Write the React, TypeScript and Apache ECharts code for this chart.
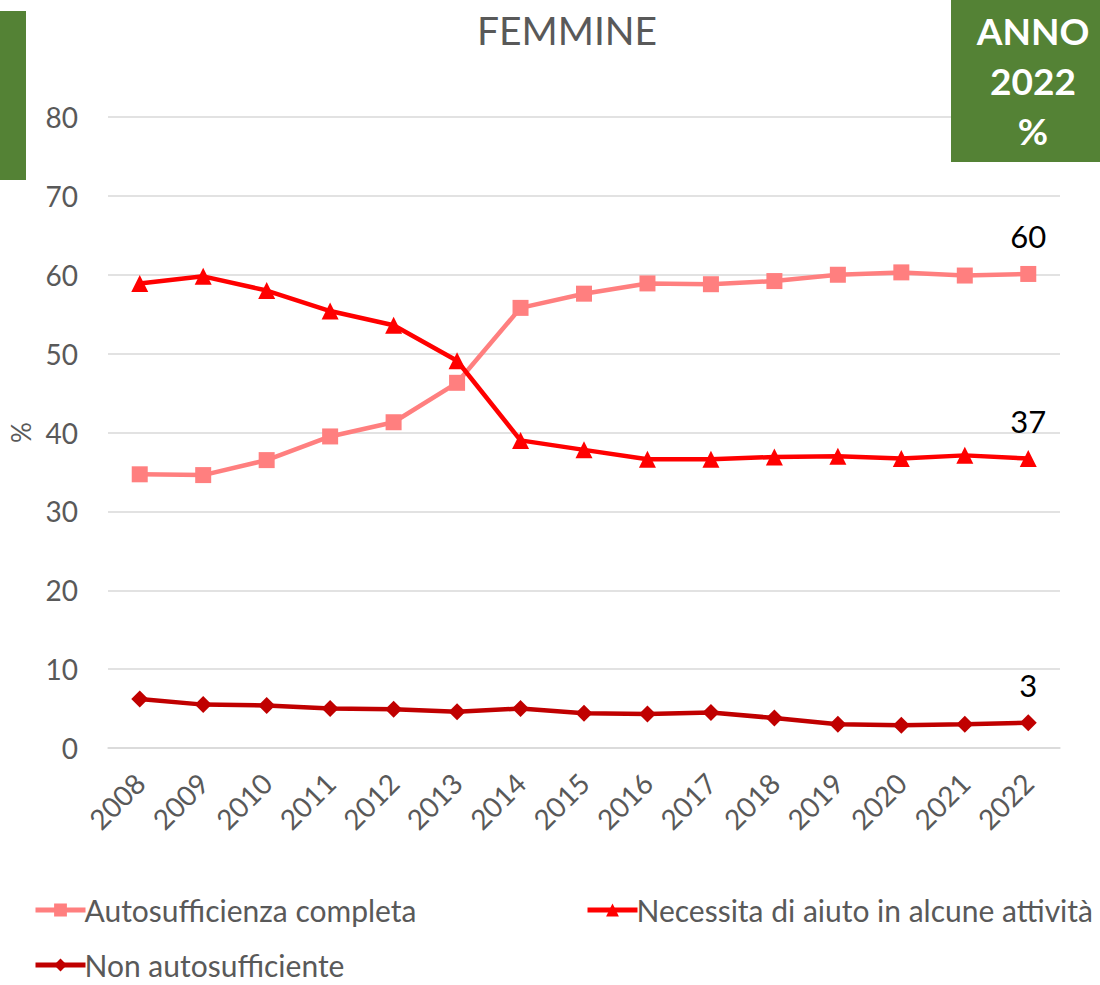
import React, { useEffect, useRef } from "react";
import * as echarts from "echarts";

const years = ["2008","2009","2010","2011","2012","2013","2014","2015","2016","2017","2018","2019","2020","2021","2022"];
const autosufficienza = [34.7, 34.6, 36.5, 39.5, 41.3, 46.3, 55.8, 57.6, 58.9, 58.8, 59.2, 60.0, 60.3, 59.9, 60.1];
const necessita = [58.9, 59.8, 58.0, 55.4, 53.6, 49.1, 39.0, 37.8, 36.6, 36.6, 36.9, 37.0, 36.7, 37.1, 36.7];
const nonAuto = [6.2, 5.5, 5.4, 5.0, 4.9, 4.6, 5.0, 4.4, 4.3, 4.5, 3.8, 3.0, 2.9, 3.0, 3.2];
const yTicks = [0, 10, 20, 30, 40, 50, 60, 70, 80];

const FONT = "Lato, 'Open Sans', sans-serif";
const GREY = "#595959";

function withEndLabel(values: number[]) {
  return values.map((v, i) =>
    i === values.length - 1
      ? {
          value: v,
          label: {
            show: true,
            position: "top",
            distance: 14,
            formatter: () => String(Math.round(v)),
            color: "#000",
            fontSize: 31,
            fontFamily: FONT,
          },
        }
      : v
  );
}

const legendCommon = {
  itemWidth: 50,
  itemHeight: 16,
  lineStyle: { width: 5 },
  textStyle: { color: GREY, fontSize: 30, fontFamily: FONT, padding: [0, 0, 0, -6] },
};

export default function App() {
  const ref = useRef<HTMLDivElement>(null);
  useEffect(() => {
    document.body.style.margin = "0";
    const chart = echarts.init(ref.current!, null, { renderer: "svg" });
    const boxText = (text: string, y: number) => ({
      type: "text",
      x: 1033,
      y,
      z: 101,
      style: { text, fill: "#fff", font: `bold 37px ${FONT}`, align: "center", verticalAlign: "middle" },
    });
    chart.setOption({
      animation: false,
      textStyle: { fontFamily: FONT },
      title: {
        text: "FEMMINE",
        left: 562,
        top: 5,
        textAlign: "center",
        textStyle: { color: GREY, fontSize: 39, fontWeight: "normal", fontFamily: FONT },
      },
      graphic: [
        { type: "rect", z: 100, shape: { x: 0, y: 11, width: 26, height: 169 }, style: { fill: "#548235" } },
        { type: "rect", z: 100, shape: { x: 951, y: 0, width: 149, height: 162 }, style: { fill: "#548235" } },
        boxText("ANNO", 30),
        boxText("2022", 80),
        boxText("%", 130),
      ],
      grid: { left: 105, right: 40, top: 117, bottom: 237, containLabel: false },
      xAxis: {
        type: "category",
        data: years,
        boundaryGap: true,
        axisLine: { show: true, lineStyle: { color: "#D9D9D9", width: 1.5 } },
        axisTick: { show: false },
        axisLabel: { rotate: 45, color: GREY, fontSize: 28, fontFamily: FONT, margin: 30, interval: 0 },
      },
      yAxis: {
        type: "value",
        min: yTicks[0],
        max: yTicks[yTicks.length - 1],
        interval: 10,
        name: "%",
        nameLocation: "middle",
        nameGap: 74,
        nameRotate: 90,
        nameTextStyle: { color: GREY, fontSize: 26, fontFamily: FONT },
        axisLine: { show: false },
        axisTick: { show: false },
        axisLabel: { color: GREY, fontSize: 28, fontFamily: FONT, margin: 30 },
        splitLine: { lineStyle: { color: "#D9D9D9", width: 1.5 } },
      },
      legend: [
        { ...legendCommon, data: ["Autosufficienza completa"], left: 28, top: 890 },
        { ...legendCommon, data: ["Necessita di aiuto in alcune attività"], left: 580, top: 890 },
        { ...legendCommon, data: ["Non autosufficiente"], left: 28, top: 945 },
      ],
      series: [
        {
          name: "Autosufficienza completa",
          type: "line",
          data: withEndLabel(autosufficienza),
          symbol: "rect",
          symbolSize: 16,
          lineStyle: { color: "#FF7F7F", width: 4.5 },
          itemStyle: { color: "#FF7F7F" },
        },
        {
          name: "Necessita di aiuto in alcune attività",
          type: "line",
          data: withEndLabel(necessita),
          symbol: "triangle",
          symbolSize: 17,
          lineStyle: { color: "#FF0000", width: 4.5 },
          itemStyle: { color: "#FF0000" },
        },
        {
          name: "Non autosufficiente",
          type: "line",
          data: withEndLabel(nonAuto),
          symbol: "diamond",
          symbolSize: 17,
          lineStyle: { color: "#C00000", width: 4.5 },
          itemStyle: { color: "#C00000" },
        },
      ],
    });
    return () => chart.dispose();
  }, []);
  return <div ref={ref} style={{ width: 1100, height: 985 }} />;
}
